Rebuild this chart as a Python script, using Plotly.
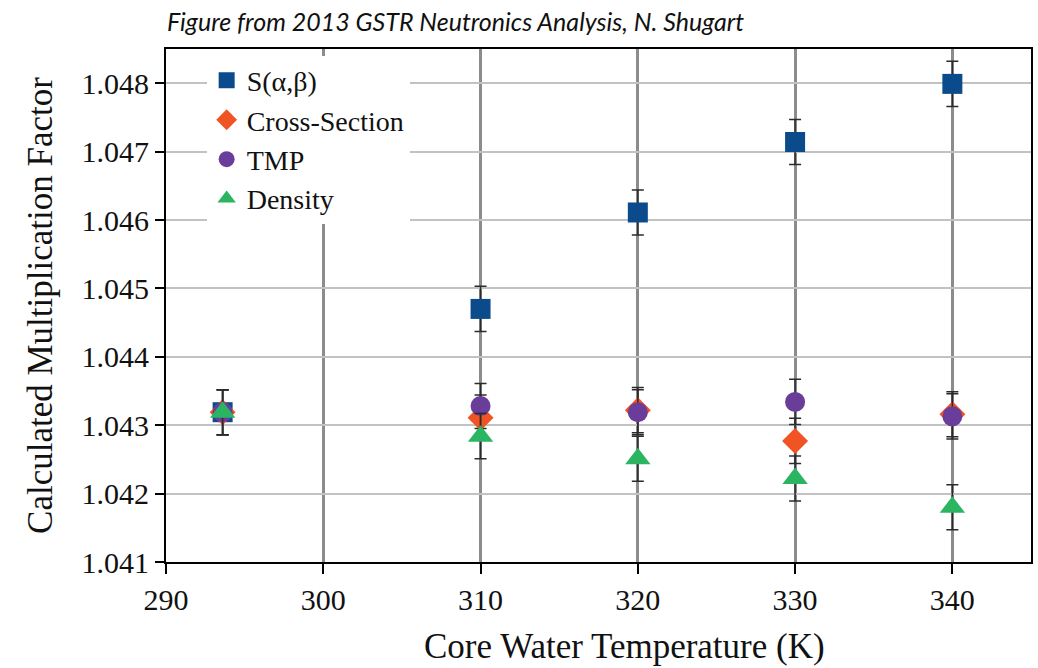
import plotly.graph_objects as go

# Core water temperature (K) for each calculation
temps = [293.6, 310, 320, 330, 340]

# Calculated multiplication factor (k) per perturbation method
k_sab = [1.04319, 1.04470, 1.04611, 1.04714, 1.04799]
k_xs = [1.04319, 1.04311, 1.04322, 1.04277, 1.04316]
k_tmp = [1.04319, 1.04328, 1.04319, 1.04334, 1.04313]
k_density = [1.04319, 1.04284, 1.04251, 1.04222, 1.04180]

# One-sigma statistical uncertainty of each k value
err_sab = [0.00033, 0.00033, 0.00033, 0.00033, 0.00033]
err_xs = [0.00033, 0.00033, 0.00033, 0.00033, 0.00033]
err_tmp = [0.00033, 0.00033, 0.00033, 0.00033, 0.00033]
err_density = [0.00033, 0.00033, 0.00033, 0.00033, 0.00033]

series_names = ["S(α,β)", "Cross-Section", "TMP", "Density"]
x_ticks = [290, 300, 310, 320, 330, 340]
y_ticks = [1.041, 1.042, 1.043, 1.044, 1.045, 1.046, 1.047, 1.048]

SERIF = "Liberation Serif"

styles = [
    dict(symbol="square", color="#0b4b8c", size=20),
    dict(symbol="diamond", color="#f15424", size=20),
    dict(symbol="circle", color="#6a3d9a", size=20),
    dict(symbol="triangle-up", color="#2bb563", size=22),
]
values = [k_sab, k_xs, k_tmp, k_density]
errors = [err_sab, err_xs, err_tmp, err_density]

fig = go.Figure()
for name, ys, es, st in zip(series_names, values, errors, styles):
    fig.add_trace(go.Scatter(
        x=temps, y=ys, name=name, mode="markers",
        marker=dict(symbol=st["symbol"], color=st["color"], size=st["size"],
                    line=dict(width=0)),
        error_y=dict(type="data", array=es, visible=True,
                     color="#2b2b2b", thickness=1.5, width=6),
    ))

fig.update_layout(
    width=1038, height=668,
    margin=dict(l=166, r=5, t=49, b=106),
    paper_bgcolor="white", plot_bgcolor="white",
    font=dict(family=SERIF, size=30, color="#111111"),
    showlegend=True,
    legend=dict(
        x=0.047, y=0.987, xanchor="left", yanchor="top",
        bgcolor="white", borderwidth=0,
        font=dict(family=SERIF, size=28, color="#111111"),
        itemwidth=30, tracegroupgap=0,
    ),
)

fig.update_xaxes(
    range=[290, 345], tickvals=x_ticks, ticktext=[str(v) for v in x_ticks],
    showline=True, linecolor="black", linewidth=2, mirror=True,
    ticks="outside", ticklen=10, tickwidth=2, tickcolor="black",
    showgrid=True, gridcolor="#8c8c8c", gridwidth=3,
    zeroline=False,
    tickfont=dict(family=SERIF, size=30, color="#111111"),
)
fig.update_yaxes(
    range=[1.041, 1.0485], tickvals=y_ticks,
    ticktext=[f"{v:.3f}" for v in y_ticks],
    showline=True, linecolor="black", linewidth=2, mirror=True,
    ticks="outside", ticklen=9, tickwidth=2, tickcolor="black",
    showgrid=True, gridcolor="#c2c2c2", gridwidth=1.5,
    zeroline=False,
    tickfont=dict(family=SERIF, size=30, color="#111111"),
    title=dict(text="Calculated Multiplication Factor",
               font=dict(family=SERIF, size=35, color="#111111"), standoff=18),
)

fig.add_annotation(
    text="Core Water Temperature (K)", xref="paper", yref="paper",
    x=(626 - 166) / 867, y=-(646 - 562) / 513, xanchor="center", yanchor="middle",
    showarrow=False, font=dict(family=SERIF, size=35, color="#111111"),
)
fig.add_annotation(
    text="<i>Figure from 2013 GSTR Neutronics Analysis, N. Shugart</i>",
    xref="paper", yref="paper",
    x=(165 - 166) / 867, y=1 + (49 - 21) / 513, xanchor="left", yanchor="middle",
    showarrow=False, font=dict(family="Lato, sans-serif", size=25, color="#111111"),
)

fig.write_html("out.html")
